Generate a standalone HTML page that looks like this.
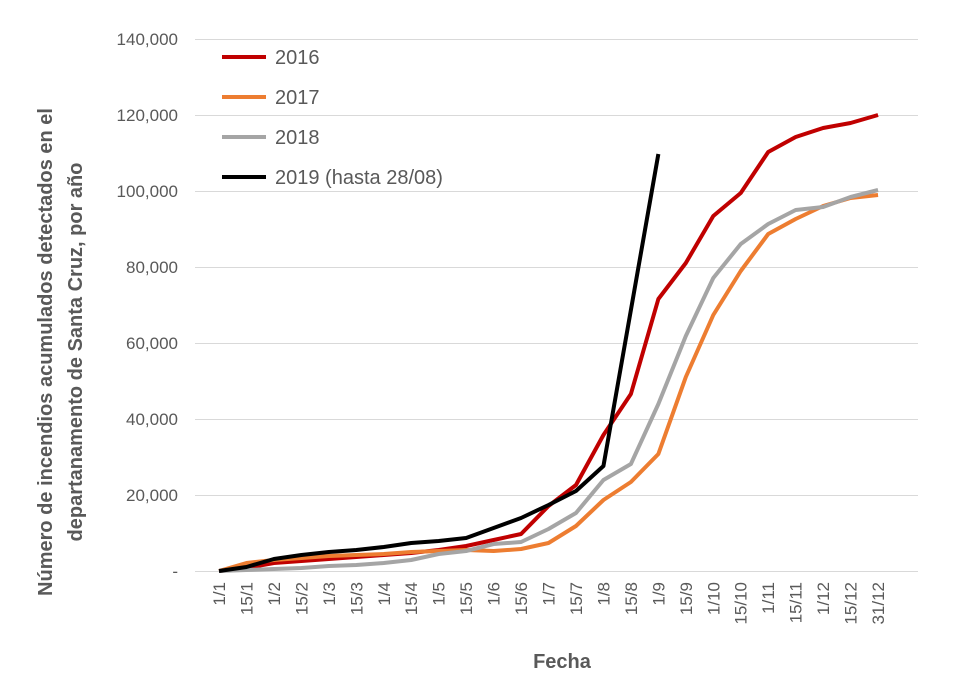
<!DOCTYPE html>
<html><head><meta charset="utf-8"><style>body{margin:0;background:#fff}svg{display:block;font-family:"Liberation Sans",sans-serif}</style></head><body>
<svg width="965" height="679" viewBox="0 0 965 679">
<g stroke="#d9d9d9" stroke-width="1">
<line x1="195" x2="918" y1="39.5" y2="39.5"/><line x1="195" x2="918" y1="115.5" y2="115.5"/><line x1="195" x2="918" y1="191.5" y2="191.5"/><line x1="195" x2="918" y1="267.5" y2="267.5"/><line x1="195" x2="918" y1="343.5" y2="343.5"/><line x1="195" x2="918" y1="419.5" y2="419.5"/><line x1="195" x2="918" y1="495.5" y2="495.5"/><line x1="195" x2="918" y1="571.5" y2="571.5"/>
</g>
<g fill="#595959" font-size="17" text-anchor="end">
<text x="178" y="45">140,000</text><text x="178" y="121">120,000</text><text x="178" y="197">100,000</text><text x="178" y="273">80,000</text><text x="178" y="349">60,000</text><text x="178" y="425">40,000</text><text x="178" y="501">20,000</text><text x="178" y="577">-</text>
</g>
<g fill="#595959" font-size="17" text-anchor="end" id="xl"></g>
<g fill="none" stroke-width="4" stroke-linejoin="round">
<polyline id="p16" stroke="#c00000"/>
<polyline id="p17" stroke="#ed7d31"/>
<polyline id="p18" stroke="#a5a5a5"/>
<polyline id="p19" stroke="#000"/>
</g>
<g stroke-width="4"><line x1="222" x2="266" y1="57" y2="57" stroke="#c00000"/><line x1="222" x2="266" y1="97" y2="97" stroke="#ed7d31"/><line x1="222" x2="266" y1="137" y2="137" stroke="#a5a5a5"/><line x1="222" x2="266" y1="177" y2="177" stroke="#000"/></g>
<g fill="#595959" font-size="20"><text x="275" y="64">2016</text><text x="275" y="104">2017</text><text x="275" y="144">2018</text><text x="275" y="184">2019 (hasta 28/08)</text></g>
<text x="562" y="668" fill="#595959" font-size="20" font-weight="bold" text-anchor="middle">Fecha</text>
<g fill="#595959" font-size="20" font-weight="bold" text-anchor="middle"><text transform="translate(52,352) rotate(-90)">Número de incendios acumulados detectados en el</text><text transform="translate(82,352) rotate(-90)">departanamento de Santa Cruz, por año</text></g>
</svg>
<script>
var L=["1/1","15/1","1/2","15/2","1/3","15/3","1/4","15/4","1/5","15/5","1/6","15/6","1/7","15/7","1/8","15/8","1/9","15/9","1/10","15/10","1/11","15/11","1/12","15/12","31/12"];
function X(i){return 219+i*27.46}
var g=document.getElementById('xl'),h='';
L.forEach(function(t,i){h+='<text transform="translate('+(X(i)+6)+',582) rotate(-90)">'+t+'</text>'});g.innerHTML=h;
var D={p16:[571,568,563,561,559,557,555,553,550,546,540,534,506,485,435,394,299,263,216,193,152,137,128,123,115],
p17:[571,563,560,558,556,555,554,552,551,550,551,549,543,526,500,482,454,377,315,271,234,219,206,198,195],
p18:[571,570,569,568,566,565,563,560,554,551,544,542,529,513,480,464,404,336,278,244,224,210,207,197,190],
p19:[571,567,559,555,552,550,547,543,541,538,528,518,505,491,466,310,154]};
for(var k in D){document.getElementById(k).setAttribute('points',D[k].map(function(y,i){return X(i)+','+y}).join(' '))}
</script>
</body></html>
